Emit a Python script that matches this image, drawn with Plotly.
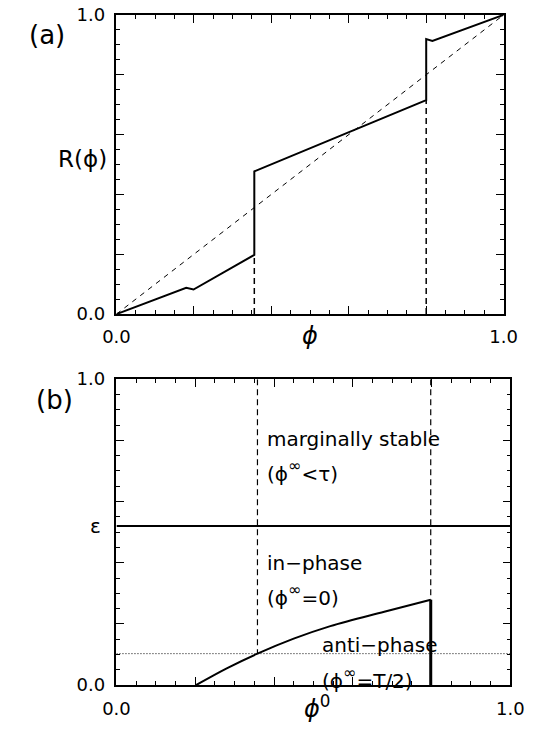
import plotly.graph_objects as go

# ---- data ----
# panel (a): return map R(phi)
phi_a = [0.0, 0.18, 0.199, 0.356, 0.356, 0.80, 0.80, 0.816, 1.0]
R_a = [0.0, 0.088, 0.082, 0.198, 0.477, 0.715, 0.919, 0.913, 1.0]
diag_x = [0.0, 1.0]
diag_y = [0.0, 1.0]
jump1_x = 0.356
jump1_y = 0.198
jump2_x = 0.80
jump2_y = 0.715

# panel (b): phase diagram
phi0_curve = [0.2017, 0.28, 0.358, 0.45, 0.543, 0.68, 0.798]
eps_curve = [0.0, 0.055, 0.103, 0.152, 0.193, 0.240, 0.279]
eps_level = 0.52
anti_level = 0.103
left_x = 0.358
right_x = 0.798
right_top = 0.279

label_vals = [0.0, 1.0]
label_text = ["0.0", "1.0"]
major_vals = [0.2, 0.4, 0.6, 0.8]
minor_vals = [round(0.05 * i, 2) for i in range(1, 20)]

FONT = "DejaVu Sans"
W, H = 548, 735

fig = go.Figure()

# panel (a)
fig.add_trace(go.Scatter(x=diag_x, y=diag_y, mode="lines",
                         line=dict(color="black", width=1, dash="5px,5px"),
                         xaxis="x", yaxis="y", showlegend=False))
fig.add_trace(go.Scatter(x=[jump1_x, jump1_x], y=[0, jump1_y], mode="lines",
                         line=dict(color="black", width=1.5, dash="6px,4px"),
                         xaxis="x", yaxis="y", showlegend=False))
fig.add_trace(go.Scatter(x=[jump2_x, jump2_x], y=[0, jump2_y], mode="lines",
                         line=dict(color="black", width=1.5, dash="6px,4px"),
                         xaxis="x", yaxis="y", showlegend=False))
fig.add_trace(go.Scatter(x=phi_a, y=R_a, mode="lines",
                         line=dict(color="black", width=2),
                         xaxis="x", yaxis="y", showlegend=False))

# panel (b)
fig.add_trace(go.Scatter(x=[0, 1], y=[anti_level, anti_level], mode="lines",
                         line=dict(color="black", width=1, dash="1px,2px"),
                         xaxis="x2", yaxis="y2", showlegend=False))
fig.add_trace(go.Scatter(x=[0, 1], y=[eps_level, eps_level], mode="lines",
                         line=dict(color="black", width=2),
                         xaxis="x2", yaxis="y2", showlegend=False))
fig.add_trace(go.Scatter(x=[left_x, left_x], y=[1, anti_level], mode="lines",
                         line=dict(color="black", width=1.2, dash="6px,4px"),
                         xaxis="x2", yaxis="y2", showlegend=False))
fig.add_trace(go.Scatter(x=[right_x, right_x], y=[1, right_top], mode="lines",
                         line=dict(color="black", width=1.2, dash="6px,4px"),
                         xaxis="x2", yaxis="y2", showlegend=False))
fig.add_trace(go.Scatter(x=[right_x, right_x], y=[0, right_top], mode="lines",
                         line=dict(color="black", width=3),
                         xaxis="x2", yaxis="y2", showlegend=False))
fig.add_trace(go.Scatter(x=phi0_curve, y=eps_curve, mode="lines",
                         line=dict(color="black", width=2, shape="spline"),
                         xaxis="x2", yaxis="y2", showlegend=False))


def label_axis(domain, anchor):
    # main axis: frame line, 0.0 / 1.0 labels, minor ticks every 0.05
    return dict(domain=domain, anchor=anchor, range=[0, 1],
                showgrid=False, zeroline=False,
                showline=True, linecolor="black", linewidth=1.5,
                mirror="ticks", ticks="inside", ticklen=8, tickwidth=1.2,
                tickcolor="black",
                tickmode="array", tickvals=label_vals, ticktext=label_text,
                tickfont=dict(family=FONT, size=18, color="black"),
                ticklabelstandoff=6,
                minor=dict(ticks="inside", ticklen=4, tickwidth=1.2,
                           tickcolor="black", tickmode="array",
                           tickvals=minor_vals, showgrid=False))


def major_axis(overlay, anchor, side):
    # overlay axis: longer ticks every 0.2, no labels
    return dict(overlaying=overlay, anchor=anchor, side=side, range=[0, 1],
                showgrid=False, zeroline=False, showticklabels=False,
                showline=True, linecolor="black", linewidth=1.5,
                mirror="ticks", ticks="inside", ticklen=8, tickwidth=1.2,
                tickcolor="black", tickmode="array", tickvals=major_vals)


fig.update_layout(
    width=W, height=H,
    margin=dict(l=0, r=0, t=0, b=0),
    paper_bgcolor="white", plot_bgcolor="white",
    xaxis=label_axis([108 / W, 516 / W], "y"),
    yaxis=label_axis([1 - 312 / H, 1 - 4 / H], "x"),
    xaxis2=label_axis([108 / W, 523 / W], "y2"),
    yaxis2=label_axis([1 - 694 / H, 1 - 379 / H], "x2"),
    xaxis3=major_axis("x", "y", "bottom"),
    yaxis3=major_axis("y", "x", "left"),
    xaxis4=major_axis("x2", "y2", "bottom"),
    yaxis4=major_axis("y2", "x2", "left"),
    showlegend=False,
)
# invisible traces so the overlay axes are drawn
fig.add_trace(go.Scatter(x=[0.5], y=[0.5], mode="markers", marker=dict(opacity=0),
                         xaxis="x3", yaxis="y3", showlegend=False, hoverinfo="skip"))
fig.add_trace(go.Scatter(x=[0.5], y=[0.5], mode="markers", marker=dict(opacity=0),
                         xaxis="x4", yaxis="y4", showlegend=False, hoverinfo="skip"))

INF = "<span style='font-size:23px'><sup>∞</sup></span>"
ann_font = dict(family=FONT, size=20, color="black")
text_left = 0.518
annotations = [
    dict(text="(a)", xref="paper", yref="paper", x=14 / W, y=1 - 25 / H,
         xanchor="left", yanchor="middle", showarrow=False,
         font=dict(family=FONT, size=26, color="black")),
    dict(text="(b)", xref="paper", yref="paper", x=21 / W, y=1 - 400 / H,
         xanchor="left", yanchor="middle", showarrow=False,
         font=dict(family=FONT, size=26, color="black")),
    dict(text="R(ϕ)", xref="x domain", yref="y domain", x=-0.02, y=0.52,
         xanchor="right", yanchor="middle", showarrow=False,
         font=dict(family=FONT, size=23, color="black")),
    dict(text="<i>ϕ</i>", xref="x domain", yref="paper", x=0.5, y=1 - 335 / H,
         xanchor="center", yanchor="middle", showarrow=False,
         font=dict(family=FONT, size=24, color="black")),
    dict(text="<i>ϕ</i><sup>0</sup>", xref="x2 domain", yref="paper", x=0.51, y=1 - 716 / H,
         xanchor="center", yanchor="middle", showarrow=False,
         font=dict(family=FONT, size=24, color="black")),
    dict(text="ε", xref="x2 domain", yref="y2", x=-0.035, y=eps_level,
         xanchor="right", yanchor="middle", showarrow=False,
         font=dict(family=FONT, size=20, color="black")),
    dict(text="marginally stable", xref="x2", yref="y2", x=left_x + 0.02, y=0.805,
         xanchor="left", yanchor="middle", showarrow=False, font=ann_font),
    dict(text="(ϕ" + INF + "<τ)", xref="x2", yref="y2", x=left_x + 0.02, y=0.70,
         xanchor="left", yanchor="middle", showarrow=False, font=ann_font),
    dict(text="in−phase", xref="x2", yref="y2", x=left_x + 0.02, y=0.40,
         xanchor="left", yanchor="middle", showarrow=False, font=ann_font),
    dict(text="(ϕ" + INF + "=0)", xref="x2", yref="y2", x=left_x + 0.02, y=0.295,
         xanchor="left", yanchor="middle", showarrow=False, font=ann_font),
    dict(text="anti−phase", xref="x2", yref="y2", x=text_left, y=0.13,
         xanchor="left", yanchor="middle", showarrow=False, font=ann_font),
    dict(text="(ϕ" + INF + "=T/2)", xref="x2", yref="y2", x=text_left, y=0.022,
         xanchor="left", yanchor="middle", showarrow=False, font=ann_font),
]
fig.update_layout(annotations=annotations)

fig.write_html("out.html")
